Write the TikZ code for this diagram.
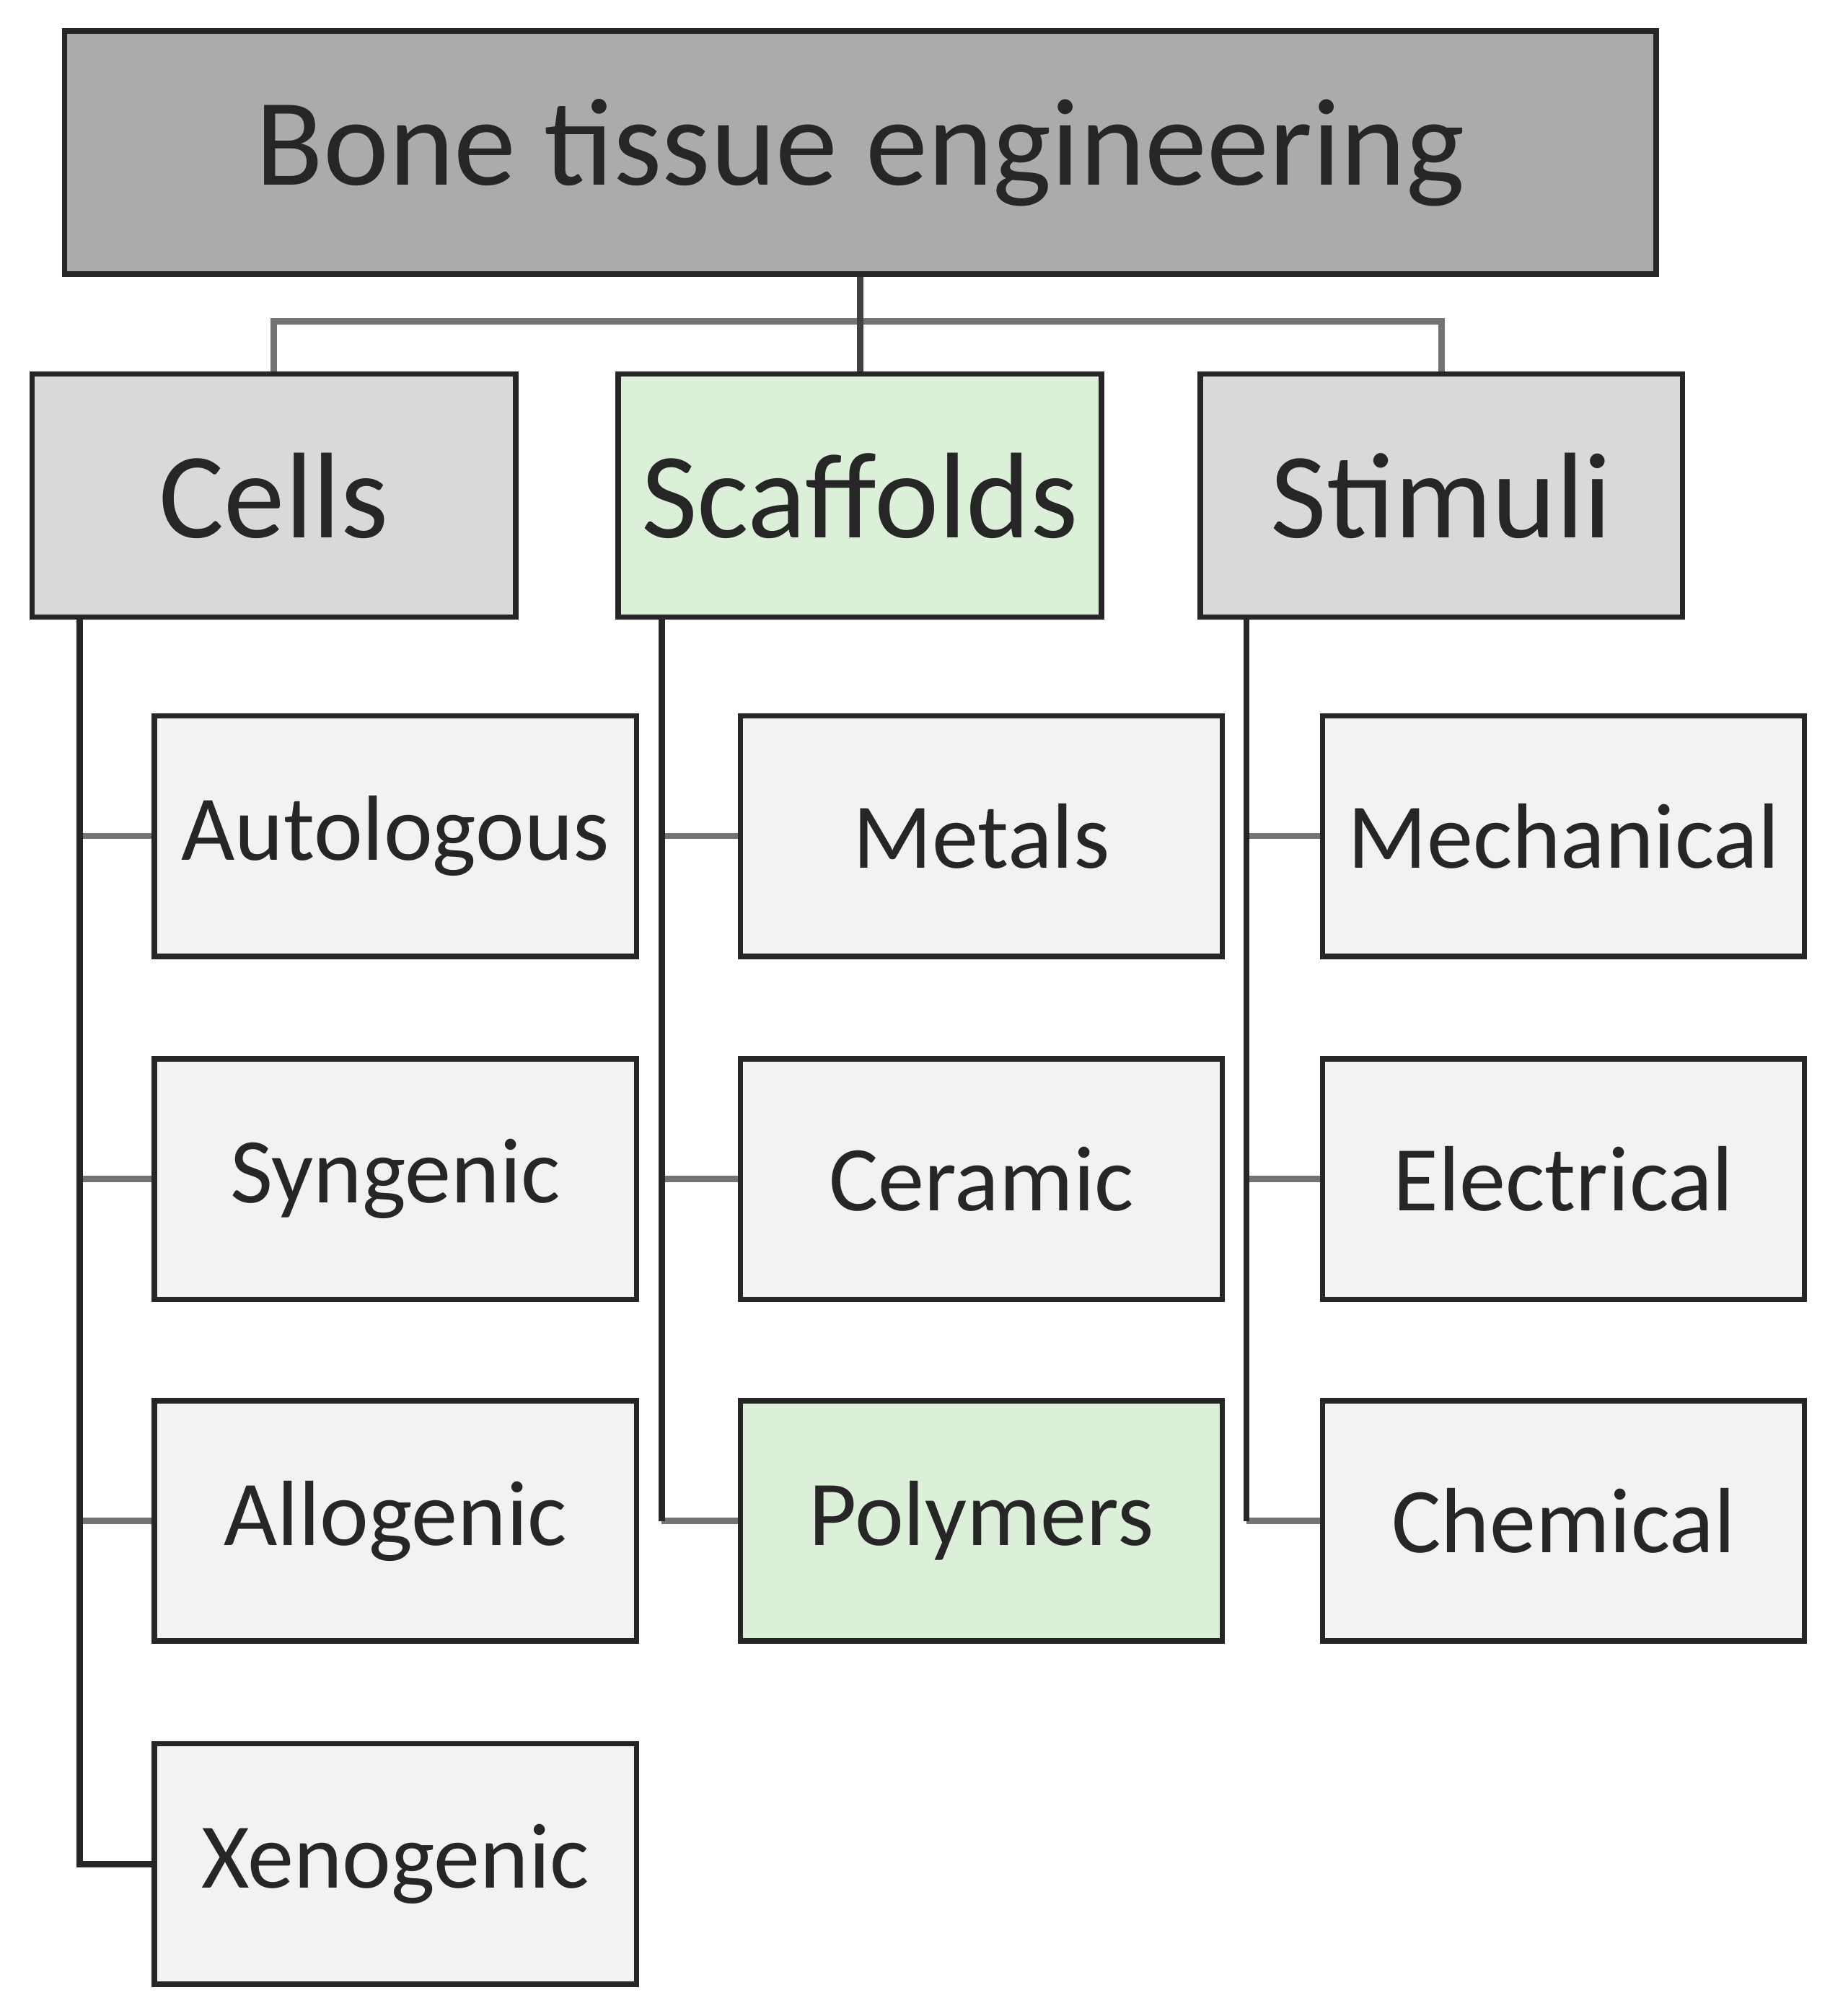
\documentclass[tikz,border=0pt]{standalone}
\usepackage{fontspec}
\setmainfont{Carlito}
\begin{document}
\begin{tikzpicture}[x=0.01cm,y=-0.01cm,
 box/.style={draw=black!85,line width=1.2pt,inner sep=0pt,text=black!85},
 big/.style={font=\fontsize{27}{30}\selectfont},
 small/.style={font=\fontsize{20.5}{24}\selectfont},
 ln/.style={draw=black!55,line width=1.4pt}]
\useasboundingbox (0,0) rectangle (1434,1569);
\node[box,fill=black!33,minimum width=12.38cm,minimum height=1.89cm,anchor=north west,font=\fontsize{27.5}{30}\selectfont] (top) at (48,22) {Bone tissue engineering};
\node[box,big,fill=black!15,minimum width=3.76cm,minimum height=1.89cm,anchor=north west] (cells) at (23,289) {Cells};
\node[box,big,fill={rgb,255:red,220;green,239;blue,216},minimum width=3.76cm,minimum height=1.89cm,anchor=north west] (scaf) at (479,289) {Scaffolds};
\node[box,big,fill=black!15,minimum width=3.75cm,minimum height=1.89cm,anchor=north west] (stim) at (932,289) {Stimuli};
\foreach \n/\t/\x/\y/\f in {a/Autologous/118/555/black!5, b/Syngenic/118/822/black!5, c/Allogenic/118/1088/black!5, d/Xenogenic/118/1355/black!5,
 e/Metals/574/555/black!5, f/Ceramic/574/822/black!5, g/Polymers/574/1088/{rgb,255:red,220;green,239;blue,216},
 h/Mechanical/1027/555/black!5, i/Electrical/1027/822/black!5, j/Chemical/1027/1088/black!5}
 \node[box,small,fill=\f,minimum width=3.75cm,minimum height=1.87cm,anchor=north west] (\n) at (\x,\y) {\t};
\coordinate (m) at (top.south |- 0,250);
\draw[ln] (m) -- (m -| cells.north) -- (cells.north);
\draw[ln] (m) -- (m -| stim.north) -- (stim.north);
\draw[draw=black!75,line width=1.4pt] (top.south) -- (top.south |- scaf.north);
\foreach \p/\k/\xx in {cells/a/62,cells/b/62,cells/c/62,cells/d/62,scaf/e/515,scaf/f/515,scaf/g/515,stim/h/970,stim/i/970,stim/j/970}
 \draw[ln] (\xx,0 |- \k.west) -- (\k.west);
\draw[draw=black!85,line width=1.4pt] (62,0 |- cells.south) -- (62,0 |- d.west) -- (d.west);
\draw[draw=black!85,line width=1.4pt] (515,0 |- scaf.south) -- (515,0 |- g.west);
\draw[draw=black!85,line width=1.4pt] (970,0 |- stim.south) -- (970,0 |- j.west);
\end{tikzpicture}
\end{document}
